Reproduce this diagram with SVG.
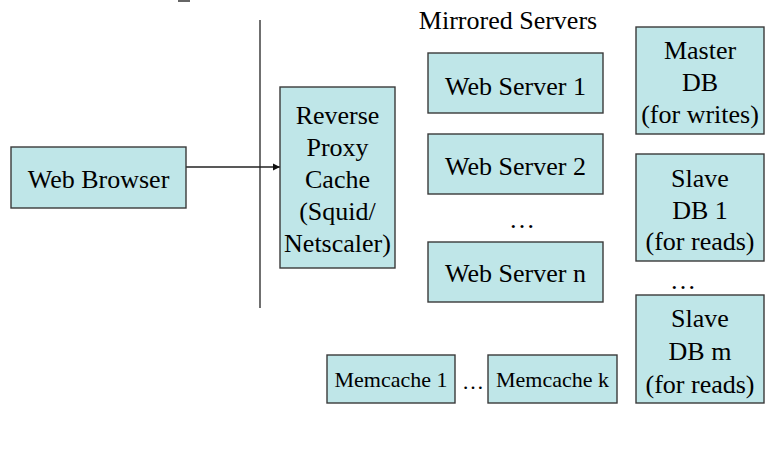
<svg xmlns="http://www.w3.org/2000/svg" width="776" height="450" viewBox="0 0 776 450">
<style>
.box{fill:#bfe6e8;stroke:#3a3a3a;stroke-width:1.4}
text{font-family:"Liberation Serif","Times New Roman",serif;fill:#000;text-anchor:middle}
.t{font-size:26px}
.s{font-size:22px}
.ln{stroke:#222;stroke-width:1.3;fill:none}
</style>
<defs>
<marker id="ah" markerWidth="8" markerHeight="8" refX="7" refY="4" orient="auto" markerUnits="userSpaceOnUse">
<path d="M0,0.5 L7,4 L0,7.5 Z" fill="#111"/>
</marker>
</defs>
<rect x="178" y="0" width="12" height="2" fill="#666"/>
<text class="t" x="508" y="29">Mirrored Servers</text>
<g id="connectors">
<line class="ln" x1="260" y1="20" x2="260" y2="308"/>
<line class="ln" x1="186" y1="167" x2="280" y2="167" marker-end="url(#ah)"/>
</g>
<g id="web-browser">
<rect class="box" x="11" y="147" width="175" height="61"/>
<text class="t" x="98.5" y="188">Web Browser</text>
</g>
<g id="reverse-proxy">
<rect class="box" x="280" y="87" width="115" height="181"/>
<text class="t" x="337.5" y="124">Reverse</text>
<text class="t" x="337.5" y="156">Proxy</text>
<text class="t" x="337.5" y="188">Cache</text>
<text class="t" x="337.5" y="220">(Squid/</text>
<text class="t" x="337.5" y="252">Netscaler)</text>
</g>
<g id="web-server-1">
<rect class="box" x="428" y="53" width="175" height="60"/>
<text class="t" x="515.5" y="95">Web Server 1</text>
</g>
<g id="web-server-2">
<rect class="box" x="428" y="134" width="175" height="60"/>
<text class="t" x="515.5" y="175">Web Server 2</text>
</g>
<text class="t" x="522" y="228">…</text>
<g id="web-server-n">
<rect class="box" x="428" y="242" width="175" height="60"/>
<text class="t" x="515.5" y="282">Web Server n</text>
</g>
<g id="master-db">
<rect class="box" x="636" y="27" width="128" height="107"/>
<text class="t" x="700" y="59">Master</text>
<text class="t" x="700" y="91">DB</text>
<text class="t" x="700" y="123">(for writes)</text>
</g>
<g id="slave-db-1">
<rect class="box" x="636" y="154" width="128" height="107"/>
<text class="t" x="700" y="187">Slave</text>
<text class="t" x="700" y="219">DB 1</text>
<text class="t" x="700" y="250">(for reads)</text>
</g>
<text class="t" x="683" y="289">…</text>
<g id="slave-db-m">
<rect class="box" x="636" y="295" width="128" height="108"/>
<text class="t" x="700" y="327">Slave</text>
<text class="t" x="700" y="360">DB m</text>
<text class="t" x="700" y="393">(for reads)</text>
</g>
<g id="memcache-1">
<rect class="box" x="327" y="355" width="128" height="48"/>
<text class="s" x="391" y="387">Memcache 1</text>
</g>
<text class="s" x="473" y="389">…</text>
<g id="memcache-k">
<rect class="box" x="488" y="355" width="129" height="48"/>
<text class="s" x="552.5" y="387">Memcache k</text>
</g>
</svg>
